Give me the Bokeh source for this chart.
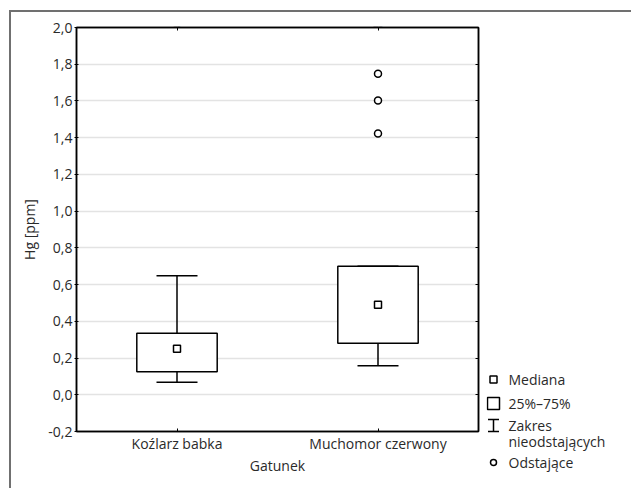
from bokeh.plotting import figure
from bokeh.models import (FactorRange, Range1d, Whisker, ColumnDataSource, FixedTicker,
                          CategoricalAxis, LinearAxis, Div)
from bokeh.layouts import row, column
from bokeh.embed import file_html
from bokeh.resources import INLINE
from bokeh.core.properties import value

# ---- data ----
species = ["Koźlarz babka", "Muchomor czerwony"]
q1 = [0.125, 0.28]
median = [0.25, 0.49]
q3 = [0.335, 0.70]
whisk_lo = [0.068, 0.158]
whisk_hi = [0.648, 0.70]
outlier_species = ["Muchomor czerwony", "Muchomor czerwony", "Muchomor czerwony"]
outlier_values = [1.748, 1.602, 1.423]

y_ticks = [-0.2, 0.0, 0.2, 0.4, 0.6, 0.8, 1.0, 1.2, 1.4, 1.6, 1.8, 2.0]
y_tick_labels = ["-0,2", "0,0", "0,2", "0,4", "0,6", "0,8", "1,0", "1,2", "1,4", "1,6", "1,8", "2,0"]

legend_labels = ["Mediana", "25%\u201375%", "Zakres", "nieodstających", "Odstające"]

FONT = "Open Sans"
TXT = "#2a2a2a"

p = figure(x_range=FactorRange(factors=species, range_padding=0),
           y_range=Range1d(-0.2, 2.0),
           frame_width=402, frame_height=404,
           min_border_left=65, min_border_top=15, min_border_bottom=49, min_border_right=8,
           output_backend="svg", toolbar_location=None)
p.frame_align = False

p.outline_line_color = "black"
p.outline_line_width = 1.5
p.xgrid.grid_line_color = None
p.ygrid.grid_line_color = "#e3e3e3"
p.ygrid.grid_line_width = 1.5
p.ygrid.ticker = FixedTicker(ticks=y_ticks)

ya = p.yaxis[0]
ya.ticker = FixedTicker(ticks=y_ticks)
ya.major_label_overrides = {t: l for t, l in zip(y_ticks, y_tick_labels)}
ya.major_tick_in = 2
ya.major_tick_out = 2
ya.minor_tick_line_color = None
ya.axis_line_color = "black"
ya.axis_line_width = 1.5
ya.major_label_standoff = 2
ya.major_label_text_font = FONT
ya.major_label_text_font_size = "14px"
ya.major_label_text_color = TXT
ya.axis_label = "Hg [ppm]"
ya.axis_label_text_font = FONT
ya.axis_label_text_font_style = "normal"
ya.axis_label_text_font_size = "14px"
ya.axis_label_text_color = TXT
ya.axis_label_standoff = 6

xa = p.xaxis[0]
xa.major_tick_in = 3
xa.major_tick_out = 0
xa.axis_line_color = "black"
xa.axis_line_width = 1.5
xa.major_label_standoff = 2
xa.major_label_text_font = FONT
xa.major_label_text_font_size = "14px"
xa.major_label_text_color = TXT
xa.axis_label = "Gatunek"
xa.axis_label_text_font = FONT
xa.axis_label_text_font_style = "normal"
xa.axis_label_text_font_size = "14px"
xa.axis_label_text_color = TXT
xa.axis_label_standoff = 0

top_ax = CategoricalAxis(major_tick_in=3, major_tick_out=0, major_label_text_font_size="1px",
                         major_label_overrides={s: "" for s in species},
                         axis_line_color="black", axis_line_width=1.5, major_label_standoff=0)
p.add_layout(top_ax, "above")
right_ax = LinearAxis(ticker=FixedTicker(ticks=y_ticks), major_tick_in=3, major_tick_out=0,
                      minor_tick_line_color=None, major_label_text_font_size="1px",
                      major_label_overrides={t: "" for t in y_ticks},
                      axis_line_color="black", axis_line_width=1.5, major_label_standoff=0)
p.add_layout(right_ax, "right")

src = ColumnDataSource(dict(x=species, q1=q1, q3=q3, med=median, lo=whisk_lo, hi=whisk_hi))

w = Whisker(base="x", lower="lo", upper="hi", source=src, level="underlay",
            line_color="black", line_width=1.5)
for h in (w.upper_head, w.lower_head):
    h.size = 41
    h.line_width = 1.5
    h.line_color = "black"
p.add_layout(w)

p.vbar(x="x", bottom="q1", top="q3", width=0.4, source=src,
       fill_color="white", line_color="black", line_width=1.5)
p.scatter(x="x", y="med", source=src, marker="square", size=7,
          fill_color="white", line_color="black", line_width=1.5)
p.scatter(x=outlier_species, y=outlier_values, marker="circle", size=7,
          fill_color="white", line_color="black", line_width=1.5)

# ---- legend panel ----
LW, LH = 139, 468
leg = figure(x_range=Range1d(0, LW), y_range=Range1d(LH, 0),
             frame_width=LW, frame_height=LH, min_border=0,
             output_backend="svg", toolbar_location=None)
leg.frame_align = False
leg.axis.visible = False
leg.grid.visible = False
leg.outline_line_color = None

ix = 7       # icon centre
tx = 22      # text start
ys = [367, 391, 413, 429, 450]
leg.scatter(x=[ix], y=[ys[0]], marker="square", size=7, fill_color="white",
            line_color="black", line_width=1.5)
leg.scatter(x=[ix], y=[ys[1]], marker="square", size=12, fill_color="white",
            line_color="black", line_width=1.5)
iy = ys[2]
leg.segment(x0=[ix, ix - 5.5, ix - 5.5], y0=[iy - 6, iy - 6, iy + 6],
            x1=[ix, ix + 5.5, ix + 5.5], y1=[iy + 6, iy - 6, iy + 6],
            line_color="black", line_width=1.5)
leg.scatter(x=[ix], y=[ys[4]], marker="circle", size=6, fill_color="white",
            line_color="black", line_width=1.5)
leg.text(x=[tx] * 5, y=ys, text=legend_labels, text_font=value(FONT),
         text_font_size="14px", text_color=TXT, text_baseline="middle", text_align="left")

FRAME_COL = "#707070"
gap_top = Div(text="", width=10, height=10, margin=0)
gap_tl = Div(text="", width=9, height=2, margin=0)
line_top = Div(text="", width=622, height=2, margin=0, styles={"background-color": FRAME_COL})
gap_left = Div(text="", width=9, height=476, margin=0)
line_left = Div(text="", width=2, height=476, margin=0, styles={"background-color": FRAME_COL})

layout = column(gap_top,
                row(gap_tl, line_top, spacing=0),
                row(gap_left, line_left, p, leg, spacing=0),
                spacing=0)

open("out.html", "w").write(file_html(layout, INLINE))
